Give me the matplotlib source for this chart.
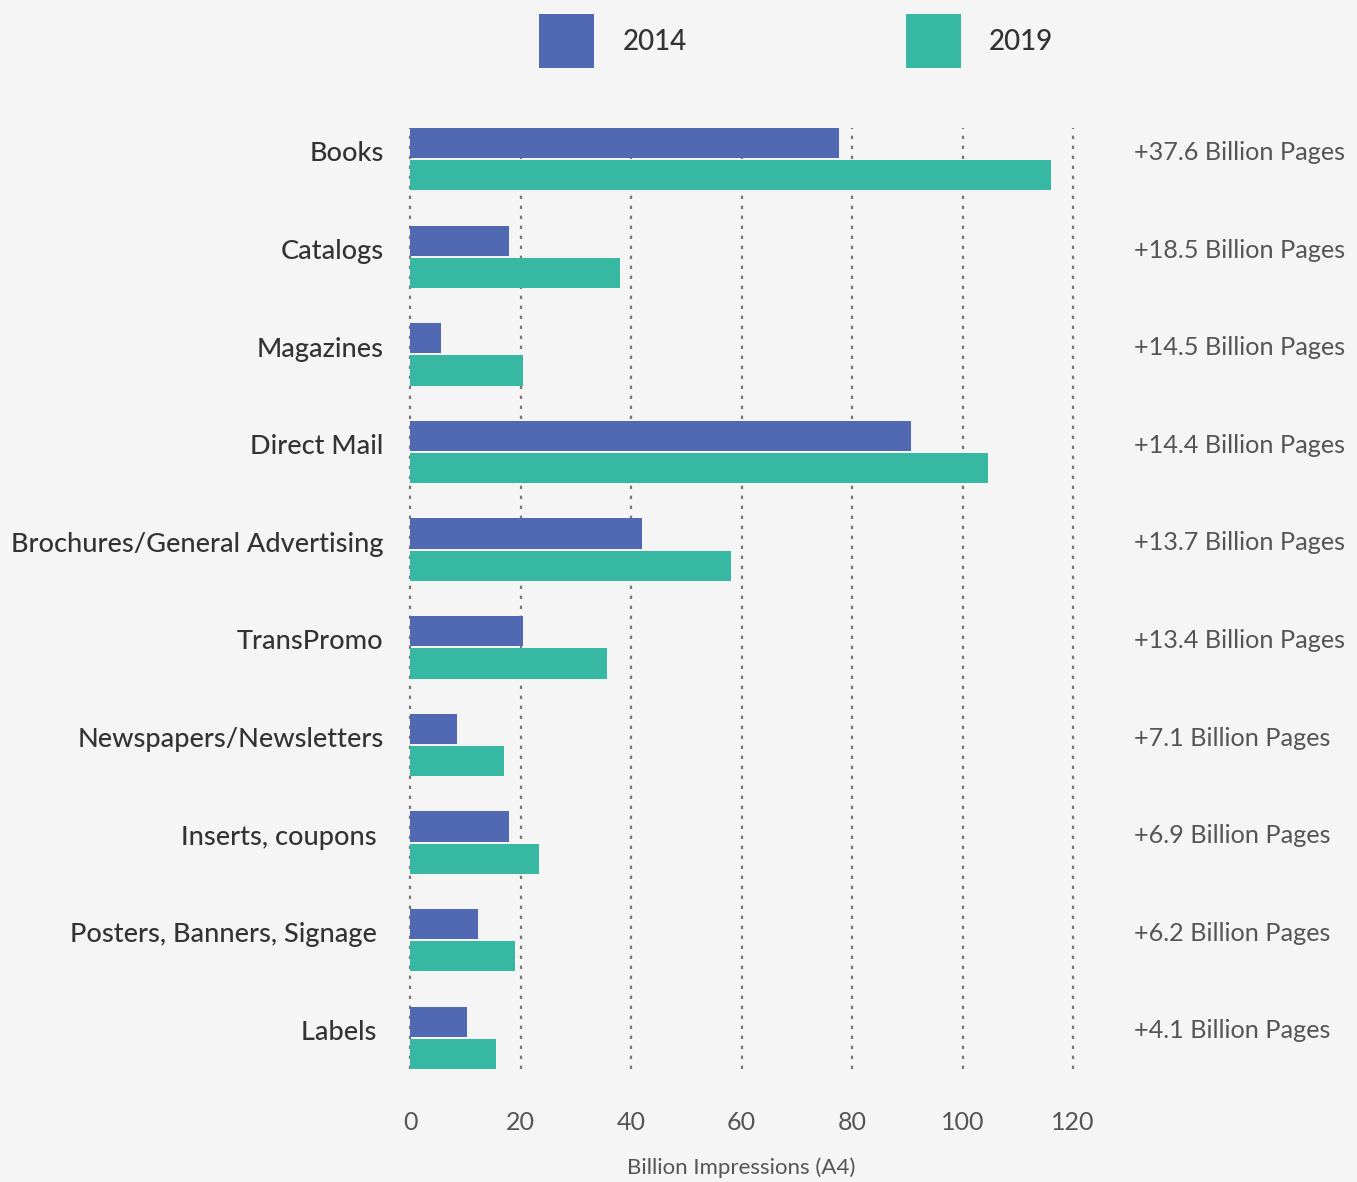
import matplotlib
matplotlib.use("Agg")
import matplotlib.pyplot as plt
from matplotlib.patches import Rectangle
import numpy as np

categories = ["Books", "Catalogs", "Magazines", "Direct Mail", "Brochures/General Advertising",
              "TransPromo", "Newspapers/Newsletters", "Inserts, coupons ", "Posters, Banners, Signage ",
              "Labels "]
v2014 = [77.6, 17.9, 5.6, 90.7, 42.0, 20.5, 8.5, 17.9, 12.3, 10.3]
v2019 = [116.0, 38.0, 20.5, 104.6, 58.1, 35.7, 17.0, 23.3, 19.0, 15.6]
growth = ["+37.6 Billion Pages", "+18.5 Billion Pages", "+14.5 Billion Pages", "+14.4 Billion Pages",
          "+13.7 Billion Pages", "+13.4 Billion Pages", "+7.1 Billion Pages", "+6.9 Billion Pages",
          "+6.2 Billion Pages", "+4.1 Billion Pages"]
xticks = [0, 20, 40, 60, 80, 100, 120]
series_names = ["2014", "2019"]

BG = "#f4f5f4"
C14 = "#5168b3"
C19 = "#36b8a3"
plt.rcParams['font.family'] = ['Lato', 'DejaVu Sans']

W, H = 1357, 1182
fig = plt.figure(figsize=(W / 100, H / 100), dpi=100, facecolor=BG)
ax = fig.add_axes([410 / W, 1 - 1069 / H, (1073 - 410) / W, (1069 - 128) / H])
ax.set_facecolor(BG)

y = np.arange(len(categories))
ax.barh(y - 0.165, v2014, height=0.31, color=C14, zorder=3)
ax.barh(y + 0.165, v2019, height=0.31, color=C19, zorder=3)

ax.set_xlim(0, 120)
ax.set_ylim(len(categories) - 1 + 0.32, -0.32)
ax.set_xticks(xticks)
ax.set_xticklabels([str(t) for t in xticks], fontsize=18, color="#555555", fontweight="normal")
ax.tick_params(axis="x", length=0, pad=30)
ax.set_yticks(y - 0.08)
ax.set_yticklabels(categories, fontsize=19.5, color="#333333", fontweight="medium")
ax.tick_params(axis="y", length=0, pad=19)
for s in ax.spines.values():
    s.set_visible(False)
ax.grid(axis="x", color="#777777", linestyle=(0, (1.5, 3)), linewidth=1.6, zorder=1)
ax.grid(axis="y", visible=False)
for gl in ax.get_xgridlines():
    gl.set_clip_on(False)
ax.set_xlabel("Billion Impressions (A4)", fontsize=16, color="#555555", fontweight="normal", labelpad=17)

for i, g in enumerate(growth):
    ax.text(131.0, i - 0.07, g, fontsize=18.2, color="#555555", fontweight="normal",
            ha="left", va="center", clip_on=False)

# legend
for (name, col, x0, tx) in [(series_names[0], C14, 539, 623), (series_names[1], C19, 906, 989)]:
    fig.add_artist(Rectangle((x0 / W, 1 - 68 / H), 55 / W, 54 / H, transform=fig.transFigure,
                             facecolor=col, edgecolor="none"))
    fig.text(tx / W, 1 - 42 / H, name, fontsize=20, color="#333333", fontweight="medium",
             ha="left", va="center")

fig.savefig("out.png", dpi=100, facecolor=BG)
